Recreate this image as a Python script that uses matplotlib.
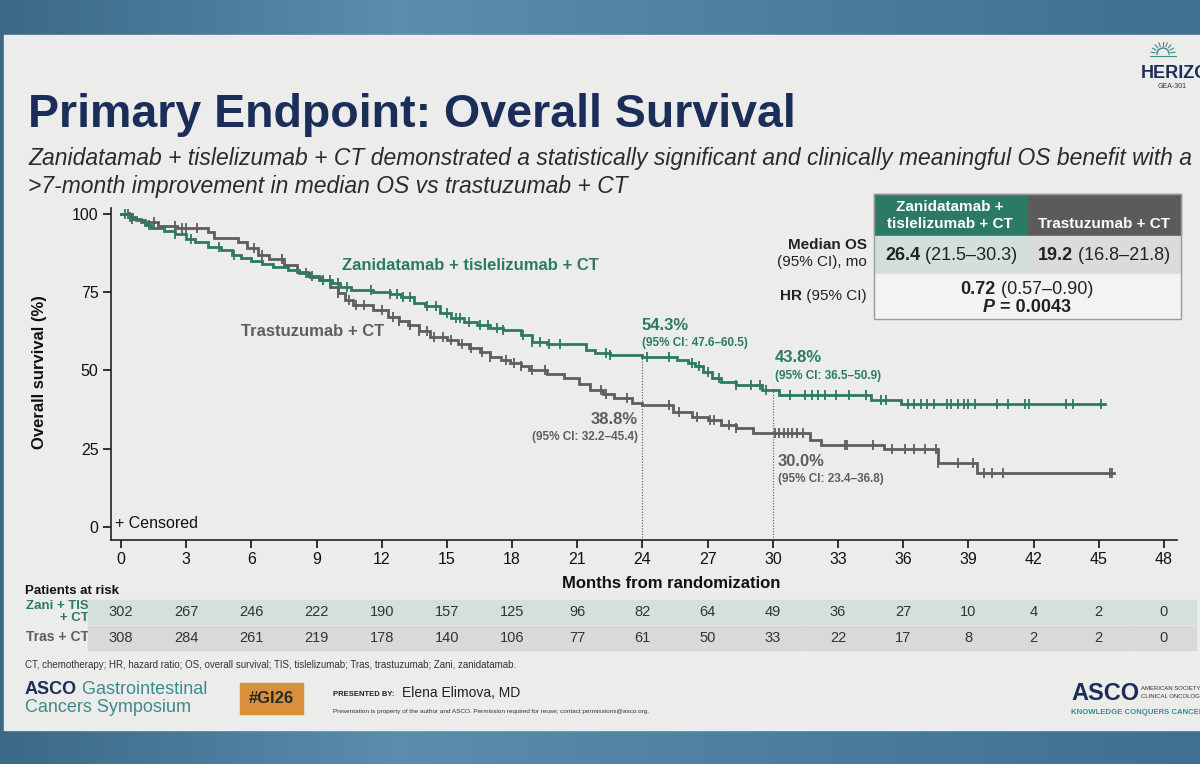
import numpy as np
import matplotlib.pyplot as plt
from matplotlib.patches import Rectangle
from matplotlib.colors import LinearSegmentedColormap
import matplotlib.transforms as mtransforms

plt.rcParams['font.family'] = ['Liberation Sans', 'DejaVu Sans']

# Kaplan-Meier steps (months, % alive)
zani_t = [0, 0.4, 0.7, 1.1, 1.4, 2.0, 2.5, 3.0, 3.4, 4.0, 4.6, 5.1, 5.5, 6.0, 6.5, 7.0, 7.7,
          8.2, 8.7, 9.2, 9.7, 10.1, 10.6, 11.6, 12.4, 12.9, 13.5, 14.0, 14.7, 15.2, 15.8,
          16.4, 17.0, 17.6, 18.4, 18.9, 19.6, 21.4, 21.8, 22.5, 24.0, 25.6, 26.1, 26.4, 26.8,
          27.2, 27.6, 28.3, 29.5, 30.3, 34.5, 35.9, 45.3]
zani_s = [100, 99.0, 98.0, 96.5, 95.5, 94.5, 93.5, 92.0, 91.0, 89.5, 88.5, 87.0, 86.0, 85.0,
          84.0, 83.0, 82.0, 81.0, 80.0, 79.0, 78.0, 76.8, 75.7, 75.1, 74.3, 73.5, 71.6, 70.5,
          68.4, 66.8, 65.6, 64.5, 63.5, 62.9, 61.3, 59.1, 58.5, 56.5, 55.5, 55.0, 54.3, 53.4,
          52.5, 51.5, 49.5, 47.5, 46.3, 45.4, 43.8, 42.0, 40.6, 39.3, 39.3]
tras_t = [0, 0.5, 0.9, 1.7, 2.6, 4.0, 4.3, 5.4, 5.8, 6.3, 6.8, 7.5, 8.1, 8.6, 9.1, 9.6, 10.0,
          10.3, 10.7, 11.6, 12.3, 12.8, 13.2, 13.7, 14.2, 15.0, 15.5, 16.0, 16.5, 17.0, 17.5,
          17.9, 18.4, 18.8, 19.6, 20.4, 21.1, 21.6, 22.2, 22.7, 23.5, 24.0, 25.4, 26.3, 27.0,
          27.6, 28.3, 29.1, 31.7, 32.2, 35.1, 37.6, 39.4, 45.7]
tras_s = [100, 98.5, 97.4, 96.2, 95.5, 94.2, 92.3, 91.0, 89.0, 87.0, 85.5, 83.7, 81.5, 80.2,
          78.9, 76.5, 74.8, 72.5, 70.9, 69.3, 67.1, 65.8, 64.5, 62.5, 60.7, 59.7, 58.5, 57.2,
          55.8, 54.3, 53.3, 52.4, 51.3, 50.2, 49.0, 47.6, 45.5, 43.8, 42.5, 41.2, 39.5, 38.8,
          36.7, 35.1, 34.0, 32.6, 31.5, 30.0, 27.8, 26.2, 24.9, 20.4, 17.3, 17.3]

# censoring times (months)
zani_cens = [0.2, 0.4, 1.3, 2.5, 3.2, 4.5, 5.2, 8.5, 9.3, 9.6, 10.0, 10.4, 11.5, 12.4, 12.7,
             13.0, 13.3, 14.1, 14.5, 15.0, 15.4, 15.6, 16.0, 16.5, 16.9, 17.3, 17.6, 18.5,
             18.9, 19.3, 19.7, 20.2, 22.3, 22.5, 24.2, 25.2, 26.3, 26.6, 27.0, 27.5, 28.3,
             29.0, 29.4, 29.7, 30.8, 31.5, 31.8, 32.1, 32.4, 32.9, 33.5, 34.3, 35.0, 35.2,
             36.2, 36.5, 36.8, 37.1, 37.4, 38.0, 38.2, 38.5, 38.8, 39.0, 39.3, 40.3, 40.8,
             41.6, 41.8, 43.5, 43.8, 45.1]
tras_cens = [0.3, 0.5, 1.5, 2.5, 2.8, 3.0, 3.5, 6.1, 6.5, 7.4, 8.8, 9.3, 10.0, 10.5, 10.8,
             11.2, 12.0, 12.5, 12.8, 13.3, 13.7, 14.1, 14.4, 14.8, 15.2, 15.7, 16.1, 16.6,
             17.0, 17.7, 18.1, 18.4, 18.9, 19.5, 22.1, 22.3, 23.3, 25.2, 25.7, 26.5, 27.1,
             27.3, 28.0, 28.3, 30.1, 30.3, 30.5, 30.7, 30.9, 31.1, 31.4, 33.3, 33.4, 34.6,
             35.5, 36.1, 36.5, 37.0, 37.5, 37.6, 38.5, 39.2, 39.7, 40.1, 40.6, 45.5, 45.6]

risk_months = list(range(0, 49, 3))
zani_risk = [302, 267, 246, 222, 190, 157, 125, 96, 82, 64, 49, 36, 27, 10, 4, 2, 0]
tras_risk = [308, 284, 261, 219, 178, 140, 106, 77, 61, 50, 33, 22, 17, 8, 2, 2, 0]

landmark_months = [24, 30]
zani_land = [54.3, 43.8]
zani_ci = ['47.6–60.5', '36.5–50.9']
tras_land = [38.8, 30.0]
tras_ci = ['32.2–45.4', '23.4–36.8']

GREEN = '#2c7a65'
GRAY = '#5e5e5e'
NAVY = '#1b2d59'
TEAL = '#3b8c8c'

W, H = 1200, 764
fig = plt.figure(figsize=(12, 7.64), dpi=100)

# background layer in pixel coordinates
bg = fig.add_axes([0, 0, 1, 1])
bg.set_xlim(0, W)
bg.set_ylim(H, 0)
bg.axis('off')
blue = LinearSegmentedColormap.from_list('b', ['#3b6987', '#5a8db0', '#4a7d9f', '#3f7092'])
bg.imshow(np.linspace(0, 1, 256)[None, :], extent=[0, W, H, 0], cmap=blue, aspect='auto')
bg.add_patch(Rectangle((4, 35), W, 695, color='#ecedea'))

renderer = fig.canvas.get_renderer()


def rich(x, y, parts, ha='left', size=12, color='#222222'):
    """Write a line made of differently styled pieces: (text, weight, style[, colour])."""
    arts = []
    for p in parts:
        c = p[3] if len(p) > 3 else color
        arts.append(bg.text(0, y, p[0], fontsize=size, fontweight=p[1], fontstyle=p[2],
                            color=c, va='center', ha='left'))
    widths = [a.get_window_extent(renderer).width for a in arts]
    total = sum(widths)
    x0 = x - total / 2 if ha == 'center' else (x - total if ha == 'right' else x)
    for a, wd in zip(arts, widths):
        a.set_x(x0)
        x0 += wd


# title block
bg.text(28, 127, 'Primary Endpoint: Overall Survival', fontsize=33.5, fontweight='bold',
        color=NAVY, va='baseline')
bg.text(28, 165, 'Zanidatamab + tislelizumab + CT demonstrated a statistically significant '
        'and clinically meaningful OS benefit with a', fontsize=16.5, fontstyle='italic',
        color='#2b2b2b', va='baseline')
bg.text(28, 193, '>7-month improvement in median OS vs trastuzumab + CT', fontsize=16.5,
        fontstyle='italic', color='#2b2b2b', va='baseline')

# HERIZON logo (cut by the slide edge)
th = np.linspace(0, np.pi, 30)
bg.plot(1163 + 6 * np.cos(th), 54 - 6 * np.sin(th), color=TEAL, lw=1)
for a in np.linspace(0.15, np.pi - 0.15, 9):
    bg.plot([1163 + 8 * np.cos(a), 1163 + 12 * np.cos(a)],
            [54 - 8 * np.sin(a), 54 - 12 * np.sin(a)], color=TEAL, lw=0.8)
bg.plot([1150, 1176], [56, 56], color=TEAL, lw=0.8)
bg.text(1141, 74, 'HERIZON', fontsize=13, fontweight='bold', color=NAVY, va='center')
bg.text(1158, 86, 'GEA-301', fontsize=5, color='#333333', va='center')

# main KM axes
ax = fig.add_axes([111 / W, 1 - 540 / H, 1066 / W, 332 / H])
ax.patch.set_alpha(0)
ax.set_xlim(-0.46, 48.6)
ax.set_ylim(-4.2, 101.9)
for sp in ['top', 'right']:
    ax.spines[sp].set_visible(False)
for sp in ['left', 'bottom']:
    ax.spines[sp].set_linewidth(1.2)
    ax.spines[sp].set_color('#222222')
ax.set_xticks(risk_months)
ax.set_yticks([0, 25, 50, 75, 100])
ax.tick_params(direction='out', length=6, width=1.2, labelsize=11.5, colors='#111111', pad=3)


def surv_at(t, times, surv):
    i = np.searchsorted(times, t, side='right') - 1
    return np.asarray(surv)[np.clip(i, 0, len(surv) - 1)]


for tt, ss, cc, col in [(tras_t, tras_s, tras_cens, GRAY), (zani_t, zani_s, zani_cens, GREEN)]:
    ax.step(tt, ss, where='post', color=col, lw=2, solid_joinstyle='miter')
    ax.plot(cc, surv_at(cc, tt, ss), ls='none', marker='|', ms=7, mew=1.3, color=col)

for m, z in zip(landmark_months, zani_land):
    ax.vlines(m, -4.2, z + 1, colors='#555555', linestyles=(0, (1, 1.5)), lw=0.8)

# labels around the plot
bg.text(40, 372, 'Overall survival (%)', fontsize=12, fontweight='bold', rotation=90,
        ha='center', va='center', color='#111111')
bg.text(671, 583, 'Months from randomization', fontsize=12, fontweight='bold',
        ha='center', va='center', color='#111111')
bg.text(115, 523, '+ Censored', fontsize=11.5, va='center', color='#111111')
bg.text(342, 265, 'Zanidatamab + tislelizumab + CT', fontsize=12, fontweight='bold',
        color=GREEN, va='center')
bg.text(241, 332, 'Trastuzumab + CT', fontsize=12, fontweight='bold', color=GRAY, va='center')

# landmark annotations
zani_pos = [(642, 325), (775, 358)]
for (px, py), v, ci in zip(zani_pos, zani_land, zani_ci):
    bg.text(px, py, f'{v:.1f}%', fontsize=12, fontweight='bold', color=GREEN, va='center')
    bg.text(px, py + 18, f'(95% CI: {ci})', fontsize=8.5, fontweight='bold', color=GREEN,
            va='center')
tras_pos = [(638, 419, 'right'), (778, 461, 'left')]
for (px, py, al), v, ci in zip(tras_pos, tras_land, tras_ci):
    bg.text(px, py, f'{v:.1f}%', fontsize=12, fontweight='bold', color=GRAY, va='center', ha=al)
    bg.text(px, py + 18, f'(95% CI: {ci})', fontsize=8.5, fontweight='bold', color=GRAY,
            va='center', ha=al)

# median OS table
bg.add_patch(Rectangle((874, 194), 153, 41, color=GREEN))
bg.add_patch(Rectangle((1028, 194), 153, 41, color='#5b5b5b'))
bg.add_patch(Rectangle((874, 236), 153, 37, color='#d3dfdb'))
bg.add_patch(Rectangle((1028, 236), 153, 37, color='#dbdbdb'))
bg.add_patch(Rectangle((874, 274), 307, 45, color='#f3f3f1'))
bg.add_patch(Rectangle((874, 194), 307, 125, fill=False, ec='#9a9a9a', lw=1))
bg.text(950, 207, 'Zanidatamab +', fontsize=11, fontweight='bold', color='white',
        ha='center', va='center')
bg.text(950, 224, 'tislelizumab + CT', fontsize=11, fontweight='bold', color='white',
        ha='center', va='center')
bg.text(1104, 224, 'Trastuzumab + CT', fontsize=11, fontweight='bold', color='white',
        ha='center', va='center')
rich(867, 245, [('Median OS', 'bold', 'normal')], ha='right', size=11)
rich(867, 262, [('(95% CI), mo', 'normal', 'normal')], ha='right', size=11)
rich(867, 296, [('HR', 'bold', 'normal'), (' (95% CI)', 'normal', 'normal')], ha='right', size=11)
rich(951, 256, [('26.4', 'bold', 'normal'), (' (21.5–30.3)', 'normal', 'normal')],
     ha='center', size=13)
rich(1104, 256, [('19.2', 'bold', 'normal'), (' (16.8–21.8)', 'normal', 'normal')],
     ha='center', size=13)
rich(1027, 289, [('0.72', 'bold', 'normal'), (' (0.57–0.90)', 'normal', 'normal')],
     ha='center', size=13)
rich(1027, 308, [('P', 'bold', 'italic'), (' = 0.0043', 'bold', 'normal')],
     ha='center', size=13)

# patients at risk table, columns follow the month axis
tr = mtransforms.blended_transform_factory(ax.transData, bg.transData)
bg.text(25, 591, 'Patients at risk', fontsize=9.5, fontweight='bold', color='#111111',
        va='center')
bg.text(89, 606, 'Zani + TIS', fontsize=9.5, fontweight='bold', color=GREEN, ha='right',
        va='center')
bg.text(89, 618, '+ CT', fontsize=9.5, fontweight='bold', color=GREEN, ha='right', va='center')
bg.text(89, 637, 'Tras + CT', fontsize=10, fontweight='bold', color=GRAY, ha='right',
        va='center')
for m, z, t in zip(risk_months, zani_risk, tras_risk):
    ax.add_patch(Rectangle((m - 1.5, 600), 2.96, 24, transform=tr, color='#d4e0dd',
                           clip_on=False))
    ax.add_patch(Rectangle((m - 1.5, 625.5), 2.96, 24, transform=tr, color='#d9d9d8',
                           clip_on=False))
    ax.text(m, 612, str(z), transform=tr, fontsize=10.5, color='#333333', ha='center',
            va='center', clip_on=False)
    ax.text(m, 638, str(t), transform=tr, fontsize=10.5, color='#333333', ha='center',
            va='center', clip_on=False)

# footnote and footer
bg.text(25, 665, 'CT, chemotherapy; HR, hazard ratio; OS, overall survival; TIS, tislelizumab; '
        'Tras, trastuzumab; Zani, zanidatamab.', fontsize=7, color='#333333', va='center')
rich(25, 690, [('ASCO', 'bold', 'normal', NAVY), (' Gastrointestinal', 'normal', 'normal', TEAL)],
     size=13)
bg.text(25, 707, 'Cancers Symposium', fontsize=13, color=TEAL, va='center')
bg.add_patch(Rectangle((240, 683), 63, 31, color='#d98f3c'))
bg.text(271.5, 698.5, '#GI26', fontsize=12, fontweight='bold', color='#2a2a2a',
        ha='center', va='center')
bg.text(333, 694, 'PRESENTED BY:', fontsize=5.5, fontweight='bold', color='#222222',
        va='center')
bg.text(402, 693, 'Elena Elimova, MD', fontsize=10, color='#222222', va='center')
bg.text(333, 711, 'Presentation is property of the author and ASCO. Permission required for '
        'reuse; contact permissions@asco.org.', fontsize=4.6, color='#333333', va='center')
bg.text(1071, 694, 'ASCO', fontsize=17, fontweight='bold', color=NAVY, va='center')
bg.text(1141, 689, 'AMERICAN SOCIETY OF', fontsize=4.3, color='#333333', va='center')
bg.text(1141, 697, 'CLINICAL ONCOLOGY', fontsize=4.3, color='#333333', va='center')
bg.text(1071, 712, 'KNOWLEDGE CONQUERS CANCER', fontsize=5.6, fontweight='bold', color=TEAL,
        va='center')

fig.savefig('out.png', dpi=100)
